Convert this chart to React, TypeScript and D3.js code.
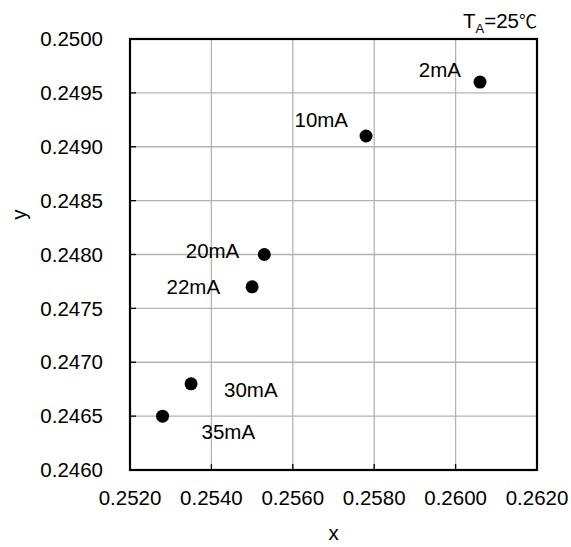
import React from "react";
import * as d3 from "d3";

const labels = ["2mA", "10mA", "20mA", "22mA", "30mA", "35mA"];
const xValues = [0.2606, 0.2578, 0.2553, 0.2550, 0.2535, 0.2528];
const yValues = [0.2496, 0.2491, 0.2480, 0.2477, 0.2468, 0.2465];
const xTicks = [0.252, 0.254, 0.256, 0.258, 0.26, 0.262];
const yTicks = [0.246, 0.2465, 0.247, 0.2475, 0.248, 0.2485, 0.249, 0.2495, 0.25];

// label layout relative to each dot: [dx, dy, anchor]
const labelLayout: [number, number, string][] = [
  [-19, -5, "end"],
  [-18, -9, "end"],
  [-25, 3, "end"],
  [-32, 7, "end"],
  [33, 13, "start"],
  [39, 23, "start"],
];

const W = 571;
const H = 547;
const M = { left: 130, right: 537, top: 39, bottom: 470 };
const FONT = "'Liberation Sans', Arial, sans-serif";

export default function App() {
  const x = d3.scaleLinear().domain([0.252, 0.262]).range([M.left, M.right]);
  const y = d3.scaleLinear().domain([0.246, 0.25]).range([M.bottom, M.top]);
  const fs = 20.5;
  return (
    <svg
      width={W}
      height={H}
      style={{ position: "absolute", left: 0, top: 0, background: "#fff" }}
      fontFamily={FONT}
    >
      <rect width={W} height={H} fill="#fff" />
      {/* grid */}
      {xTicks.slice(1, -1).map((t) => (
        <line key={"gx" + t} x1={x(t)} x2={x(t)} y1={M.top} y2={M.bottom} stroke="#b3b3b3" strokeWidth={1.3} />
      ))}
      {yTicks.slice(1, -1).map((t) => (
        <line key={"gy" + t} x1={M.left} x2={M.right} y1={y(t)} y2={y(t)} stroke="#b3b3b3" strokeWidth={1.3} />
      ))}
      {/* ticks inside */}
      {yTicks.map((t) => (
        <line key={"ty" + t} x1={M.left} x2={M.left + 6} y1={y(t)} y2={y(t)} stroke="#000" strokeWidth={1.3} />
      ))}
      {xTicks.map((t) => (
        <line key={"tx" + t} x1={x(t)} x2={x(t)} y1={M.bottom} y2={M.bottom - 6} stroke="#000" strokeWidth={1.3} />
      ))}
      <rect
        x={M.left}
        y={M.top}
        width={M.right - M.left}
        height={M.bottom - M.top}
        fill="none"
        stroke="#000"
        strokeWidth={2.2}
      />
      {/* tick labels */}
      {yTicks.map((t) => (
        <text key={"ly" + t} x={M.left - 27} y={y(t)} dy="0.35em" textAnchor="end" fontSize={fs} fill="#000">
          {d3.format(".4f")(t)}
        </text>
      ))}
      {xTicks.map((t) => (
        <text key={"lx" + t} x={x(t)} y={M.bottom + 35} textAnchor="middle" fontSize={fs} fill="#000">
          {d3.format(".4f")(t)}
        </text>
      ))}
      {/* axis titles */}
      <text x={(M.left + M.right) / 2} y={540} textAnchor="middle" fontSize={fs} fill="#000">
        x
      </text>
      <text
        transform={`translate(26,${(M.top + M.bottom) / 2 - 40}) rotate(-90)`}
        textAnchor="middle"
        fontSize={fs}
        fill="#000"
      >
        y
      </text>
      {/* annotation */}
      <text x={M.right} y={28} textAnchor="end" fontSize={fs} fill="#000">
        T<tspan fontSize={13} dy={5}>A</tspan>
        <tspan dy={-5}>=25</tspan>
        <tspan fontFamily="'Noto Sans CJK JP', sans-serif" fontSize={18}>℃</tspan>
      </text>
      {/* points */}
      {xValues.map((v, i) => (
        <circle key={"p" + i} cx={x(v)} cy={y(yValues[i])} r={6.5} fill="#000" />
      ))}
      {labels.map((l, i) => (
        <text
          key={"l" + i}
          x={x(xValues[i]) + labelLayout[i][0]}
          y={y(yValues[i]) + labelLayout[i][1]}
          textAnchor={labelLayout[i][2]}
          fontSize={fs}
          fill="#000"
        >
          {l}
        </text>
      ))}
    </svg>
  );
}
